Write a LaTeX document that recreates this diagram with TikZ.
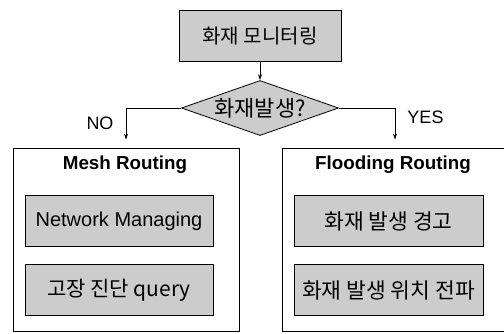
\documentclass[tikz,border=0pt]{standalone}
\usepackage{fontspec}
\setmainfont{Liberation Sans}
\newfontfamily\kr{Noto Sans CJK KR}
\usetikzlibrary{shapes.geometric,arrows.meta}

\begin{document}
\begin{tikzpicture}[x=1pt,y=-1pt,
                    every node/.style={inner sep=0pt},
                    greybox/.style={draw,line width=0.8pt,fill=black!20,minimum height=51pt},
                    routebox/.style={draw,line width=0.8pt,minimum width=226pt,minimum height=183pt},
                    title/.style={font=\fontsize{18.8pt}{20pt}\selectfont\bfseries},
                    answer/.style={font=\fontsize{18pt}{20pt}\selectfont},
                    link/.style={draw,line width=0.8pt,-{Stealth[length=6pt,width=4pt]}}]
                    \useasboundingbox (0,0) rectangle (504,333);
                    \node[greybox,minimum width=162pt,font=\kr\fontsize{20pt}{22pt}\selectfont] (monitor) at (260,36) {화재 모니터링};
                    \node[diamond,draw,line width=0.8pt,fill=black!20,aspect=2.8,minimum width=157pt,minimum height=55pt,
                          font=\kr\fontsize{22pt}{24pt}\selectfont] (fire) at (260,108) {화재발생?};
                    \node[routebox] (mesh) at (126,239.5) {};
                    \node[routebox] (flood) at (395,239.5) {};
                    \node[title] (meshtitle) at (125,165) {Mesh Routing};
                    \node[title] (floodtitle) at (393,165) {Flooding Routing};
                    \node[greybox,minimum width=188pt,font=\fontsize{20pt}{22pt}\selectfont] (manage) at (119,221) {Network Managing};
                    \node[greybox,minimum width=188pt,font=\kr\fontsize{21pt}{23pt}\selectfont] (query) at (119,290) {고장 진단 query};
                    \node[greybox,minimum width=189pt,font=\kr\fontsize{21.5pt}{23pt}\selectfont] (alarm) at (388.5,221) {화재 발생 경고};
                    \node[greybox,minimum width=189pt,font=\kr\fontsize{21.5pt}{23pt}\selectfont] (spread) at (388.5,290) {화재 발생 위치 전파};
                    \node[answer] (no) at (100,123.5) {NO};
                    \node[answer] (yes) at (425.5,117.5) {YES};
                    \draw[link] (monitor) -- (fire);
                    \draw[link,shorten >=8pt] (fire.west) -| (mesh.north);
                    \draw[link,shorten >=8pt] (fire.east) -| (flood.north);
\end{tikzpicture}
\end{document}
